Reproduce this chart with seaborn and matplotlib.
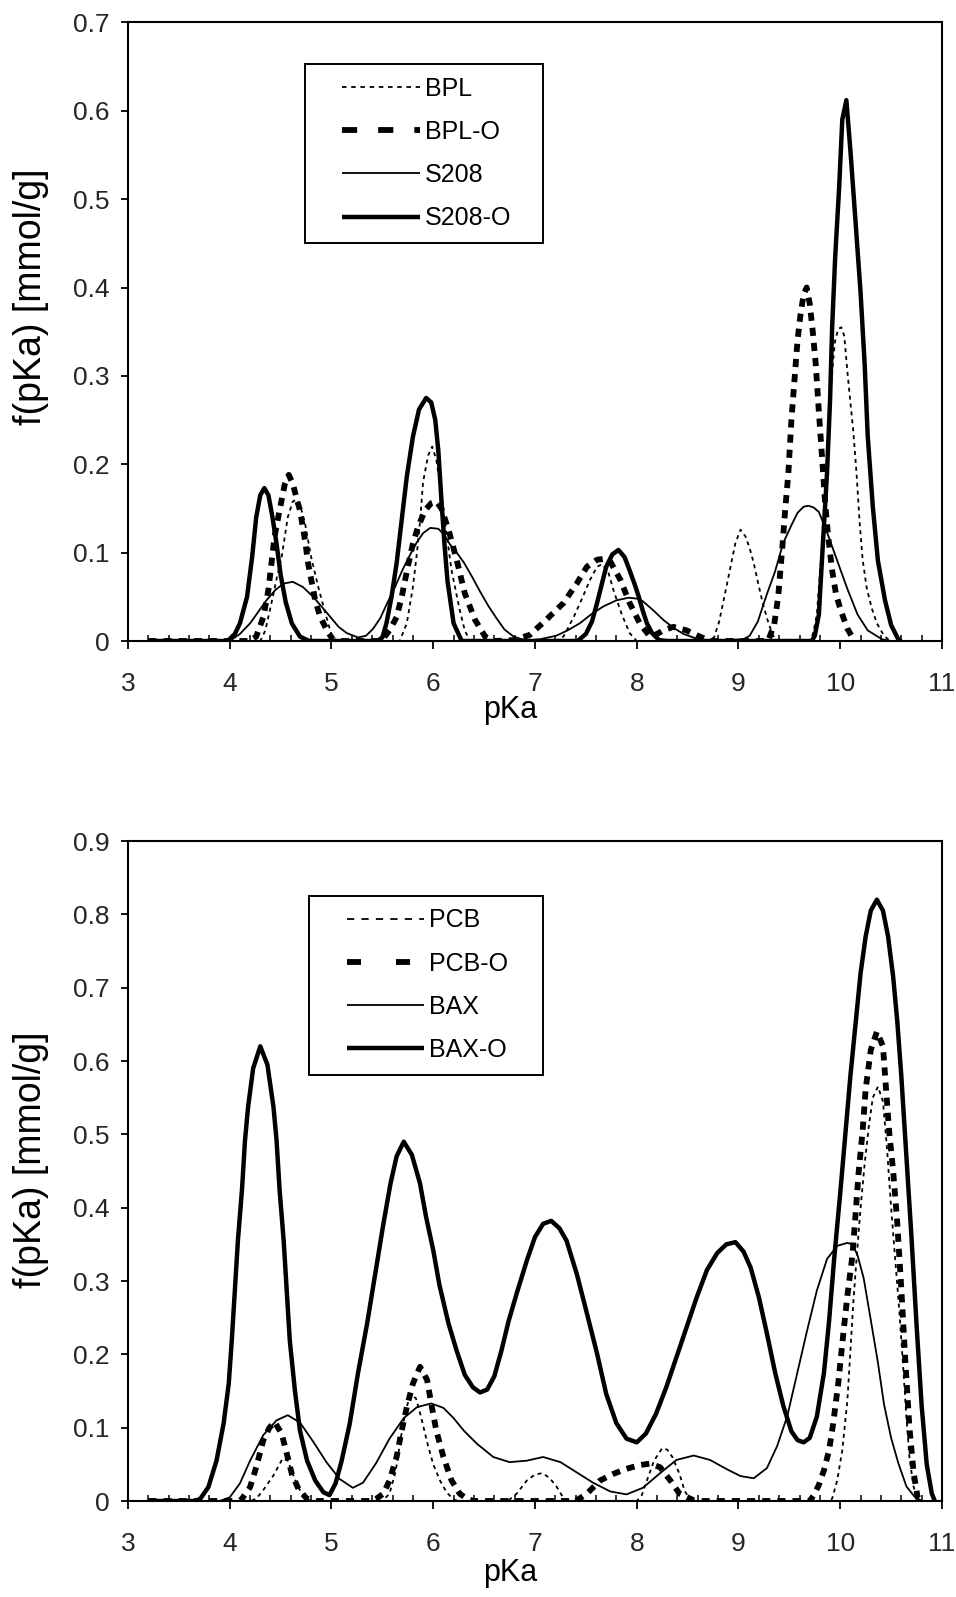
import matplotlib
matplotlib.use("Agg")
import matplotlib.pyplot as plt
import seaborn as sns
import pandas as pd
from matplotlib import font_manager as fm
from matplotlib.ticker import MultipleLocator
from matplotlib.lines import Line2D
from matplotlib.legend_handler import HandlerLine2D

# ---------------- data ----------------
X_TICKS = [3, 4, 5, 6, 7, 8, 9, 10, 11]
X_TICK_LABELS = ["3", "4", "5", "6", "7", "8", "9", "10", "11"]
TOP_Y_TICKS = [0, 0.1, 0.2, 0.3, 0.4, 0.5, 0.6, 0.7]
TOP_Y_LABELS = ["0", "0.1", "0.2", "0.3", "0.4", "0.5", "0.6", "0.7"]
BOT_Y_TICKS = [0, 0.1, 0.2, 0.3, 0.4, 0.5, 0.6, 0.7, 0.8, 0.9]
BOT_Y_LABELS = ["0", "0.1", "0.2", "0.3", "0.4", "0.5", "0.6", "0.7", "0.8", "0.9"]

TOP_SERIES = ["BPL", "BPL-O", "S208", "S208-O"]
BOT_SERIES = ["PCB", "PCB-O", "BAX", "BAX-O"]

BPL_X = [3.2, 4.30, 4.35, 4.41, 4.46, 4.51, 4.57, 4.62, 4.66, 4.70, 4.74, 4.80, 4.87, 4.94, 5.00, 5.05,
         5.67, 5.74, 5.80, 5.84, 5.87, 5.90, 5.95, 5.99, 6.03, 6.07, 6.12, 6.18, 6.26, 6.31, 6.36,
         7.20, 7.28, 7.38, 7.47, 7.54, 7.61, 7.66, 7.72, 7.77, 7.85, 7.93, 8.00,
         8.70, 8.76, 8.81, 8.87, 8.92, 8.97, 9.02, 9.07, 9.11, 9.15, 9.19, 9.24, 9.29, 9.34, 9.38,
         9.71, 9.74, 9.77, 9.79, 9.81, 9.83, 9.85, 9.87, 9.89, 9.91, 9.93, 9.95, 9.98, 10.01, 10.04,
         10.07, 10.10, 10.13, 10.16, 10.19, 10.22, 10.26, 10.31, 10.36, 10.43, 10.49]
BPL_Y = [0, 0, 0.012, 0.043, 0.07, 0.095, 0.14, 0.158, 0.16, 0.15, 0.133, 0.095, 0.061, 0.031, 0.007, 0,
         0, 0.02, 0.061, 0.10, 0.135, 0.18, 0.21, 0.22, 0.205, 0.175, 0.13, 0.08, 0.035, 0.012, 0,
         0, 0.005, 0.027, 0.05, 0.069, 0.084, 0.087, 0.078, 0.058, 0.031, 0.009, 0,
         0, 0.004, 0.022, 0.055, 0.083, 0.111, 0.126, 0.118, 0.105, 0.088, 0.067, 0.042, 0.022, 0.006, 0,
         0, 0.012, 0.03, 0.06, 0.09, 0.122, 0.16, 0.2, 0.245, 0.285, 0.318, 0.34, 0.353, 0.355, 0.345,
         0.305, 0.27, 0.235, 0.19, 0.135, 0.092, 0.06, 0.037, 0.02, 0.006, 0]

BPLO_X = [3.2, 4.20, 4.26, 4.33, 4.38, 4.41, 4.44, 4.49, 4.54, 4.58, 4.62, 4.66, 4.69, 4.74, 4.77, 4.84, 4.89, 4.97, 5.02, 5.10,
          5.49, 5.57, 5.64, 5.69, 5.75, 5.80, 5.85, 5.92, 5.98, 6.03, 6.08, 6.15, 6.23, 6.31, 6.41, 6.51, 6.60,
          6.79, 6.95, 7.11, 7.28, 7.41, 7.51, 7.61, 7.68, 7.74, 7.84, 7.93, 8.03, 8.13, 8.20, 8.26, 8.36, 8.49, 8.62, 8.72,
          9.29, 9.35, 9.39, 9.43, 9.46, 9.49, 9.52, 9.55, 9.58, 9.61, 9.64, 9.67, 9.70, 9.73, 9.76, 9.79, 9.82, 9.85,
          9.88, 9.92, 9.96, 10.01, 10.07, 10.14]
BPLO_Y = [0, 0, 0.005, 0.027, 0.058, 0.088, 0.118, 0.148, 0.177, 0.188, 0.178, 0.16, 0.148, 0.114, 0.088, 0.046, 0.027, 0.009, 0.001, 0,
          0, 0.012, 0.027, 0.05, 0.084, 0.11, 0.129, 0.148, 0.156, 0.158, 0.15, 0.126, 0.092, 0.054, 0.024, 0.005, 0,
          0.001, 0.007, 0.024, 0.043, 0.065, 0.084, 0.092, 0.093, 0.09, 0.069, 0.043, 0.02, 0.005, 0.008, 0.012, 0.016, 0.012, 0.005, 0,
          0, 0.018, 0.05, 0.105, 0.15, 0.19, 0.25, 0.295, 0.34, 0.37, 0.392, 0.40, 0.382, 0.35, 0.312, 0.259, 0.21, 0.158,
          0.12, 0.08, 0.052, 0.033, 0.014, 0]

S208_X = [3.2, 4.0, 4.1, 4.2, 4.28, 4.36, 4.45, 4.53, 4.62, 4.72, 4.82, 4.91, 4.99, 5.07, 5.15, 5.26, 5.34, 5.41,
          5.48, 5.54, 5.62, 5.70, 5.77, 5.84, 5.90, 5.97, 6.05, 6.11, 6.16, 6.23, 6.30, 6.38, 6.46, 6.54, 6.62,
          6.70, 6.79, 6.87, 6.95, 7.05, 7.21, 7.32, 7.44, 7.55, 7.67, 7.80, 7.92, 8.00, 8.06, 8.16, 8.26, 8.36,
          8.46, 8.58, 8.69, 8.90, 9.05, 9.11, 9.19, 9.27, 9.36, 9.44, 9.52, 9.58, 9.64, 9.69, 9.74, 9.79, 9.87,
          9.97, 10.07, 10.17, 10.27, 10.41, 10.50]
S208_Y = [0, 0, 0.008, 0.02, 0.033, 0.046, 0.058, 0.065, 0.067, 0.061, 0.05, 0.038, 0.027, 0.016, 0.009, 0.004, 0.006, 0.014,
          0.026, 0.041, 0.06, 0.081, 0.097, 0.112, 0.122, 0.128, 0.127, 0.12, 0.11, 0.10, 0.089, 0.073, 0.056, 0.04, 0.026,
          0.013, 0.005, 0.002, 0.001, 0.002, 0.006, 0.012, 0.02, 0.03, 0.039, 0.046, 0.049, 0.048, 0.045, 0.035, 0.024, 0.015,
          0.008, 0.003, 0.001, 0.001, 0.002, 0.006, 0.022, 0.05, 0.079, 0.111, 0.131, 0.145, 0.152, 0.153, 0.151, 0.146, 0.123,
          0.091, 0.059, 0.03, 0.012, 0.002, 0]

S208O_X = [3.2, 3.98, 4.05, 4.10, 4.17, 4.22, 4.26, 4.30, 4.34, 4.38, 4.42, 4.46, 4.50, 4.55, 4.61, 4.69, 4.78,
           5.45, 5.50, 5.54, 5.59, 5.64, 5.69, 5.74, 5.80, 5.86, 5.93, 5.98, 6.02, 6.05, 6.08, 6.11, 6.14, 6.20, 6.28,
           7.42, 7.50, 7.56, 7.61, 7.66, 7.70, 7.76, 7.82, 7.88, 7.93, 7.98, 8.02, 8.06, 8.10, 8.15, 8.22, 8.30,
           9.72, 9.75, 9.79, 9.81, 9.84, 9.87, 9.90, 9.92, 9.95, 9.99, 10.02, 10.06, 10.10, 10.15, 10.20, 10.24,
           10.27, 10.32, 10.37, 10.44, 10.50, 10.57, 10.60]
S208O_Y = [0, 0, 0.008, 0.02, 0.05, 0.095, 0.14, 0.165, 0.173, 0.165, 0.14, 0.11, 0.075, 0.044, 0.02, 0.005, 0,
           0, 0.004, 0.02, 0.05, 0.088, 0.137, 0.186, 0.231, 0.262, 0.275, 0.27, 0.25, 0.215, 0.16, 0.11, 0.068, 0.02, 0,
           0, 0.008, 0.022, 0.043, 0.066, 0.084, 0.098, 0.103, 0.095, 0.08, 0.064, 0.05, 0.034, 0.02, 0.009, 0.001, 0,
           0, 0.006, 0.03, 0.071, 0.131, 0.19, 0.273, 0.354, 0.434, 0.515, 0.59, 0.612, 0.555, 0.475, 0.394, 0.313,
           0.232, 0.152, 0.091, 0.046, 0.018, 0.002, 0]

PCB_X = [3.2, 4.20, 4.26, 4.33, 4.43, 4.52, 4.57, 4.62, 4.67, 4.75, 4.80,
         5.50, 5.57, 5.63, 5.68, 5.73, 5.78, 5.83, 5.88, 5.94, 6.00, 6.07, 6.13, 6.20, 6.25,
         6.70, 6.75, 6.82, 6.92, 7.00, 7.07, 7.14, 7.21, 7.28, 7.32,
         8.00, 8.05, 8.10, 8.17, 8.25, 8.30, 8.35, 8.42, 8.47, 8.52, 8.56,
         9.88, 9.92, 9.97, 10.02, 10.07, 10.10, 10.13, 10.16, 10.20, 10.24, 10.28, 10.32, 10.37,
         10.42, 10.46, 10.50, 10.54, 10.58, 10.62, 10.65, 10.68, 10.72, 10.76, 10.80]
PCB_Y = [0, 0, 0.003, 0.015, 0.035, 0.058, 0.055, 0.037, 0.019, 0.003, 0,
         0, 0.01, 0.04, 0.085, 0.125, 0.145, 0.14, 0.115, 0.08, 0.05, 0.027, 0.012, 0.002, 0,
         0, 0.002, 0.01, 0.028, 0.036, 0.038, 0.032, 0.02, 0.004, 0,
         0, 0.008, 0.028, 0.055, 0.072, 0.07, 0.06, 0.037, 0.014, 0.003, 0,
         0, 0.003, 0.028, 0.069, 0.137, 0.205, 0.274, 0.33, 0.40, 0.46, 0.51, 0.55, 0.565,
         0.545, 0.48, 0.40, 0.33, 0.26, 0.18, 0.115, 0.06, 0.02, 0.003, 0]

PCBO_X = [3.2, 4.10, 4.13, 4.20, 4.26, 4.33, 4.39, 4.44, 4.51, 4.56, 4.61, 4.68, 4.76, 4.85,
          5.40, 5.44, 5.51, 5.57, 5.64, 5.69, 5.74, 5.80, 5.87, 5.94, 5.98, 6.03, 6.10, 6.18, 6.26, 6.33, 6.40,
          7.40, 7.51, 7.64, 7.77, 7.90, 8.03, 8.13, 8.23, 8.33, 8.42, 8.56, 8.65,
          9.70, 9.74, 9.79, 9.84, 9.89, 9.93, 9.98, 10.03, 10.07, 10.12, 10.15, 10.18, 10.22, 10.25, 10.30, 10.36,
          10.42, 10.45, 10.48, 10.52, 10.56, 10.60, 10.64, 10.68, 10.72, 10.76, 10.80]
PCBO_Y = [0, 0, 0.005, 0.019, 0.046, 0.083, 0.10, 0.108, 0.092, 0.065, 0.037, 0.015, 0.003, 0,
          0, 0.003, 0.01, 0.028, 0.06, 0.096, 0.128, 0.16, 0.183, 0.165, 0.133, 0.096, 0.06, 0.028, 0.01, 0.003, 0,
          0, 0.01, 0.028, 0.037, 0.044, 0.049, 0.051, 0.046, 0.028, 0.01, 0.001, 0,
          0, 0.008, 0.022, 0.042, 0.069, 0.105, 0.16, 0.228, 0.28, 0.335, 0.39, 0.447, 0.505, 0.562, 0.615, 0.64,
          0.62, 0.562, 0.505, 0.45, 0.38, 0.29, 0.19, 0.10, 0.04, 0.005, 0]

BAX_X = [3.2, 3.90, 4.00, 4.10, 4.20, 4.33, 4.46, 4.57, 4.69, 4.82, 4.95, 5.08, 5.21, 5.31, 5.44, 5.57, 5.71,
         5.84, 5.98, 6.10, 6.20, 6.30, 6.43, 6.59, 6.75, 6.92, 7.08, 7.25, 7.41, 7.57, 7.74, 7.90, 8.06, 8.23,
         8.39, 8.56, 8.72, 8.89, 9.02, 9.15, 9.28, 9.38, 9.48, 9.57, 9.67, 9.77, 9.87, 9.97, 10.07, 10.12,
         10.17, 10.23, 10.30, 10.37, 10.43, 10.50, 10.57, 10.65, 10.73, 10.80]
BAX_Y = [0, 0, 0.005, 0.024, 0.055, 0.09, 0.11, 0.117, 0.107, 0.081, 0.053, 0.03, 0.018, 0.025, 0.052, 0.085, 0.113,
         0.128, 0.133, 0.127, 0.113, 0.096, 0.078, 0.06, 0.053, 0.055, 0.06, 0.053, 0.039, 0.025, 0.013, 0.009, 0.018, 0.038,
         0.056, 0.062, 0.056, 0.043, 0.034, 0.031, 0.045, 0.075, 0.116, 0.17, 0.23, 0.287, 0.33, 0.348, 0.352, 0.35,
         0.335, 0.304, 0.247, 0.189, 0.132, 0.086, 0.052, 0.02, 0.006, 0]

BAXO_X = [3.2, 3.65, 3.71, 3.79, 3.87, 3.94, 3.99, 4.02, 4.05, 4.08, 4.12, 4.15, 4.18, 4.23, 4.30, 4.37, 4.43,
          4.46, 4.49, 4.53, 4.56, 4.59, 4.64, 4.69, 4.76, 4.84, 4.92, 4.98, 5.04, 5.10, 5.18, 5.26, 5.35, 5.43,
          5.51, 5.58, 5.64, 5.71, 5.79, 5.87, 5.93, 6.00, 6.06, 6.15, 6.23, 6.31, 6.39, 6.46, 6.53, 6.60, 6.67,
          6.74, 6.82, 6.92, 7.00, 7.08, 7.16, 7.24, 7.31, 7.41, 7.51, 7.61, 7.70, 7.80, 7.90, 8.00, 8.09, 8.19,
          8.29, 8.39, 8.49, 8.59, 8.69, 8.79, 8.88, 8.97, 9.05, 9.12, 9.20, 9.28, 9.36, 9.44, 9.52, 9.58, 9.64,
          9.70, 9.77, 9.84, 9.89, 9.94, 10.00, 10.05, 10.10, 10.15, 10.20, 10.25, 10.30, 10.36, 10.42, 10.47,
          10.52, 10.56, 10.60, 10.65, 10.70, 10.75, 10.80, 10.85, 10.90, 10.93]
BAXO_Y = [0, 0, 0.003, 0.019, 0.055, 0.106, 0.16, 0.219, 0.287, 0.355, 0.424, 0.492, 0.537, 0.59, 0.62, 0.595, 0.537,
          0.492, 0.424, 0.355, 0.287, 0.219, 0.151, 0.096, 0.055, 0.028, 0.012, 0.008, 0.024, 0.055, 0.106, 0.174, 0.242, 0.31,
          0.378, 0.433, 0.47, 0.49, 0.472, 0.433, 0.387, 0.342, 0.295, 0.242, 0.205, 0.172, 0.155, 0.148, 0.152, 0.17, 0.205,
          0.245, 0.283, 0.328, 0.36, 0.378, 0.382, 0.372, 0.355, 0.31, 0.256, 0.201, 0.146, 0.106, 0.085, 0.08, 0.092, 0.119,
          0.155, 0.196, 0.237, 0.278, 0.315, 0.338, 0.35, 0.353, 0.34, 0.318, 0.278, 0.228, 0.175, 0.13, 0.095, 0.083, 0.08,
          0.086, 0.115, 0.175, 0.245, 0.33, 0.42, 0.50, 0.58, 0.65, 0.72, 0.77, 0.805, 0.82, 0.805, 0.77,
          0.715, 0.655, 0.58, 0.47, 0.36, 0.24, 0.13, 0.05, 0.01, 0]

TOP_DATA = {"BPL": (BPL_X, BPL_Y), "BPL-O": (BPLO_X, BPLO_Y),
            "S208": (S208_X, S208_Y), "S208-O": (S208O_X, S208O_Y)}
BOT_DATA = {"PCB": (PCB_X, PCB_Y), "PCB-O": (PCBO_X, PCBO_Y),
            "BAX": (BAX_X, BAX_Y), "BAX-O": (BAXO_X, BAXO_Y)}

# ---------------- styles ----------------
sns.set_theme(style="white")
names = {f.name for f in fm.fontManager.ttflist}
BASE_FONT = ["Liberation Sans", "DejaVu Sans"]
plt.rcParams["font.family"] = BASE_FONT
if "Liberation Sans Narrow" in names:
    TICK_FONT = ["Liberation Sans Narrow", "Liberation Sans"]
    TICK_SIZE = 21
else:
    TICK_FONT = BASE_FONT
    TICK_SIZE = 19

# curve style per position in each panel: thin dotted, thick dashed, thin solid, thick solid
CURVE_STYLES = [dict(linewidth=1.3, linestyle=(0, (2.2, 2.2))),
                dict(linewidth=4.2, linestyle=(0, (1.4, 1.2))),
                dict(linewidth=1.3, linestyle="-"),
                dict(linewidth=3.2, linestyle="-")]
LEGEND_DASH_TOP = [(0, (2.5, 2.6)), (0, (2.6, 3.6)), "-", "-"]
LEGEND_DASH_BOT = [(0, (4.0, 4.0)), (0, (2.4, 6.0)), "-", "-"]

fig = plt.figure(figsize=(9.56, 15.97), dpi=100)
ax_top = fig.add_axes([0.13389, 0.59862, 0.85146, 0.38735])
ax_bot = fig.add_axes([0.13389, 0.06011, 0.85146, 0.41327])


def draw_panel(ax, data, order, yticks, ylabels, ymax, leg_box, leg_dashes, ylab_y, xlab_y):
    for name, style in zip(order, CURVE_STYLES):
        xs, ys = data[name]
        df = pd.DataFrame({"pKa": xs, "f": ys})
        sns.lineplot(data=df, x="pKa", y="f", ax=ax, color="black", errorbar=None,
                     label=name, solid_capstyle="butt", dash_capstyle="butt",
                     solid_joinstyle="round", **style)
    ax.set_xlim(3, 11)
    ax.set_ylim(0, ymax)
    ax.set_xticks(X_TICKS)
    ax.set_xticklabels(X_TICK_LABELS)
    ax.xaxis.set_minor_locator(MultipleLocator(0.2))
    ax.set_yticks(yticks)
    ax.set_yticklabels(ylabels)
    for lab in ax.get_xticklabels() + ax.get_yticklabels():
        lab.set_family(TICK_FONT)
        lab.set_fontsize(TICK_SIZE)
    ax.tick_params(axis="x", which="major", direction="out", length=6, width=1.3,
                   pad=16, color="black", bottom=True)
    ax.tick_params(axis="x", which="minor", direction="in", length=4, width=1.1,
                   color="black", bottom=True)
    ax.tick_params(axis="y", which="major", direction="out", length=5, width=1.3,
                   pad=8, color="black", left=True)
    for sp in ax.spines.values():
        sp.set_visible(True)
        sp.set_color("black")
        sp.set_linewidth(1.5)
    ax.set_xlabel("pKa", fontsize=22, color="black")
    ax.set_ylabel("f(pKa) [mmol/g]", fontsize=27, color="black")
    ax.xaxis.set_label_coords(0.469, xlab_y)
    ax.xaxis.label.set_va("center")
    ax.yaxis.set_label_coords(-0.1186, ylab_y)
    ax.yaxis.label.set_va("center")
    ax.grid(False)

    handles, labels = ax.get_legend_handles_labels()
    leg = ax.legend(handles, labels, loc="upper left", bbox_to_anchor=leg_box,
                    mode="expand", fontsize=18, frameon=True, fancybox=False,
                    edgecolor="black", framealpha=1, borderpad=0.5,
                    labelspacing=0.77, handlelength=4.1, handletextpad=0.2,
                    borderaxespad=0,
                    handler_map={Line2D: HandlerLine2D(xpad=1.0)})
    leg.get_frame().set_linewidth(1.4)
    for line, ls in zip(leg.get_lines(), leg_dashes):
        line.set_linestyle(ls)
    for t in leg.get_texts():
        t.set_color("black")


draw_panel(ax_top, TOP_DATA, TOP_SERIES, TOP_Y_TICKS, TOP_Y_LABELS, 0.7,
           (0.2174, 0.0, 0.2924, 0.9327), LEGEND_DASH_TOP, 0.556, -0.112)
draw_panel(ax_bot, BOT_DATA, BOT_SERIES, BOT_Y_TICKS, BOT_Y_LABELS, 0.9,
           (0.2224, 0.0, 0.2875, 0.9167), LEGEND_DASH_BOT, 0.517, -0.109)

fig.savefig("out.png", dpi=100)
